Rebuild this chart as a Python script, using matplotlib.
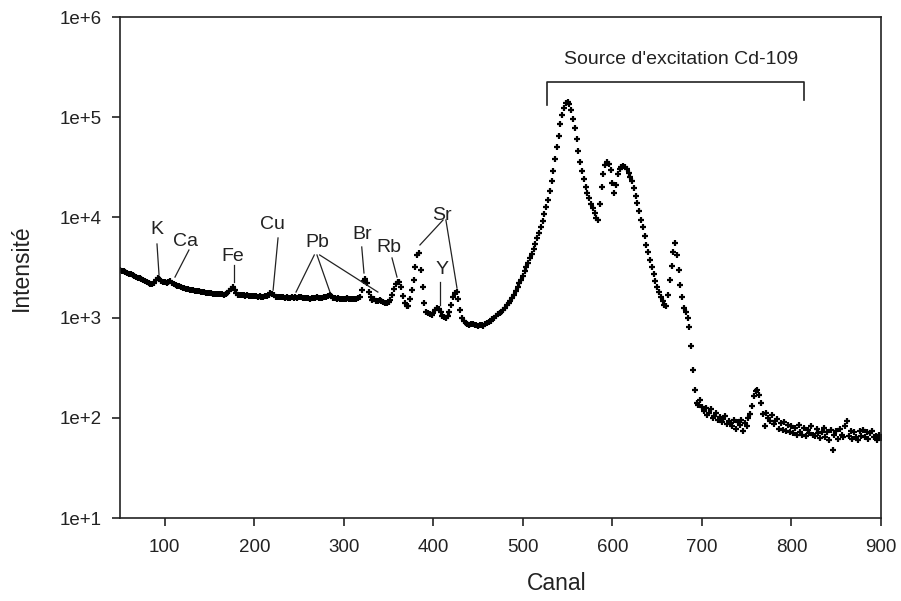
import numpy as np
import matplotlib
matplotlib.use('Agg')
import matplotlib.pyplot as plt

plt.rcParams['font.family'] = ['Liberation Sans', 'DejaVu Sans']

# Channel numbers (every 2nd channel of the spectrum)
canal = np.arange(50, 901, 2)

# Counts, channel 50 to 900, step 2
intensite = [
    3000, 2950, 2900, 2850, 2800, 2750, 2700, 2650, 2600, 2560,
    2500, 2470, 2420, 2380, 2330, 2280, 2230, 2180, 2150, 2200,
    2350, 2500, 2450, 2300, 2250, 2280, 2220, 2250, 2300, 2200,
    2150, 2100, 2080, 2050, 2000, 1990, 1960, 1950, 1930, 1900,
    1880, 1870, 1850, 1840, 1830, 1810, 1800, 1790, 1780, 1770,
    1760, 1750, 1740, 1730, 1720, 1740, 1720, 1710, 1700, 1720,
    1760, 1850, 1950, 2000, 1880, 1760, 1700, 1680, 1690, 1670,
    1660, 1680, 1650, 1640, 1660, 1630, 1640, 1620, 1630, 1620,
    1610, 1640, 1650, 1700, 1760, 1740, 1680, 1620, 1600, 1610,
    1590, 1600, 1580, 1590, 1570, 1580, 1590, 1570, 1600, 1580,
    1600, 1590, 1570, 1560, 1580, 1570, 1550, 1570, 1560, 1580,
    1590, 1570, 1560, 1580, 1600, 1620, 1660, 1680, 1640, 1580,
    1560, 1540, 1560, 1550, 1530, 1550, 1540, 1560, 1550, 1540,
    1550, 1530, 1540, 1560, 1600, 1900, 2300, 2450, 2200, 1800,
    1600, 1500, 1520, 1480, 1450, 1500, 1480, 1420, 1400, 1390,
    1420, 1500, 1700, 1950, 2150, 2250, 2250, 2000, 1650, 1400,
    1300, 1320, 1550, 1900, 2400, 3200, 4200, 4400, 3000, 2000,
    1400, 1150, 1100, 1080, 1060, 1120, 1200, 1260, 1230, 1130,
    1050, 1020, 1000, 1050, 1150, 1350, 1600, 1780, 1800, 1550,
    1200, 1000, 920, 880, 860, 850, 860, 860, 850, 840,
    830, 850, 840, 830, 860, 880, 900, 930, 960, 1000,
    1030, 1080, 1120, 1150, 1190, 1250, 1330, 1400, 1480, 1580,
    1700, 1850, 2000, 2200, 2400, 2600, 2900, 3200, 3500, 3900,
    4300, 4800, 5400, 6200, 7000, 8000, 9200, 10800, 12800, 15000,
    18500, 23000, 29000, 38000, 50000, 65000, 85000, 105000, 125000, 138000,
    142000, 135000, 118000, 97000, 78000, 60000, 46000, 36000, 29000, 24000,
    20000, 17500, 15500, 13500, 12500, 11000, 9800, 9500, 13500, 20000,
    27000, 33000, 35500, 34000, 30000, 22000, 17500, 21000, 27000, 30500,
    32000, 32500, 32000, 30500, 28000, 25500, 23000, 19500, 16500, 14000,
    11500, 9500, 8000, 6500, 5300, 4500, 3800, 3200, 2700, 2300,
    2000, 1800, 1600, 1450, 1350, 1300, 1700, 2400, 3300, 4500,
    5600, 4200, 3000, 2100, 1600, 1250, 1150, 1000, 800, 520,
    300, 190, 140, 135, 150, 128, 118, 126, 108, 112,
    122, 100, 104, 112, 96, 102, 90, 98, 104, 86,
    94, 88, 82, 96, 78, 90, 84, 96, 74, 88,
    82, 100, 110, 130, 165, 185, 190, 170, 140, 110,
    82, 112, 100, 92, 108, 86, 94, 98, 78, 88,
    76, 90, 74, 84, 72, 82, 70, 80, 68, 84,
    72, 68, 80, 66, 76, 70, 82, 68, 66, 78,
    70, 63, 72, 80, 64, 72, 60, 76, 48, 68,
    74, 62, 78, 68, 64, 82, 92, 66, 74, 62,
    72, 64, 60, 74, 66, 76, 64, 72, 62, 70,
    74, 64, 66, 60, 68, 63,
]

# Element labels: (text, label x, label y, list of line segments)
labels = [
    ('K', 91, 7650, [((91.3, 5430), (93.6, 2660))]),
    ('Ca', 123, 5690, [((127, 4730), (111.4, 2540))]),
    ('Fe', 176, 4120, [((177, 3350), (177, 2260))]),
    ('Cu', 220, 8410, [((226.5, 6240), (221, 1880))]),
    ('Pb', 270, 5560, [((267, 4220), (246.6, 1800)),
                       ((270, 4220), (284.5, 1800)),
                       ((273, 4220), (338, 1800))]),
    ('Br', 320, 6690, [((320, 5070), (322.5, 2790))]),
    ('Rb', 350.5, 4960, [((353.8, 3940), (359.4, 2540))]),
    ('Sr', 410, 10570, [((410.8, 9420), (385, 5310)),
                        ((414, 9420), (426.4, 1970))]),
    ('Y', 409.6, 2990, [((407.4, 2260), (407.4, 1340))]),
]

fig = plt.figure(figsize=(9.01, 6.01), dpi=100)
ax = fig.add_axes([0.1332, 0.138, 0.8446, 0.8337])

ax.plot(canal, intensite, linestyle='none', marker='+', color='black',
        markersize=4.5, markeredgewidth=1.6)

ax.set_yscale('log')
ax.set_xlim(50, 900)
ax.set_ylim(10, 1e6)
ax.set_xticks([100, 200, 300, 400, 500, 600, 700, 800, 900])
ax.set_yticks([1e1, 1e2, 1e3, 1e4, 1e5, 1e6])
ax.set_yticklabels(['1e+1', '1e+2', '1e+3', '1e+4', '1e+5', '1e+6'])
ax.minorticks_off()
ax.tick_params(axis='both', direction='out', length=6, width=1.2,
               labelsize=13.5, colors='#222222', pad=7)
ax.tick_params(axis='x', pad=9)
for s in ax.spines.values():
    s.set_linewidth(1.2)
    s.set_color('#222222')

ax.set_xlabel('Canal', fontsize=16.5, color='#222222', va='center')
ax.set_ylabel('Intensité', fontsize=16.5, color='#222222', va='center')
ax.xaxis.set_label_coords(0.574, -0.13)
ax.yaxis.set_label_coords(-0.129, 0.499)

for name, lx, ly, segs in labels:
    ax.text(lx, ly, name, fontsize=14, ha='center', va='center', color='#222222')
    for (x0, y0), (x1, y1) in segs:
        ax.plot([x0, x1], [y0, y1], color='#222222', linewidth=0.9)

# Excitation source bracket
ax.plot([527, 527, 814, 814], [132000, 224000, 224000, 149000],
        color='#222222', linewidth=1.2)
ax.text(677, 380000, "Source d'excitation Cd-109", fontsize=14,
        ha='center', va='center', color='#222222')

fig.savefig('out.png', dpi=100)
